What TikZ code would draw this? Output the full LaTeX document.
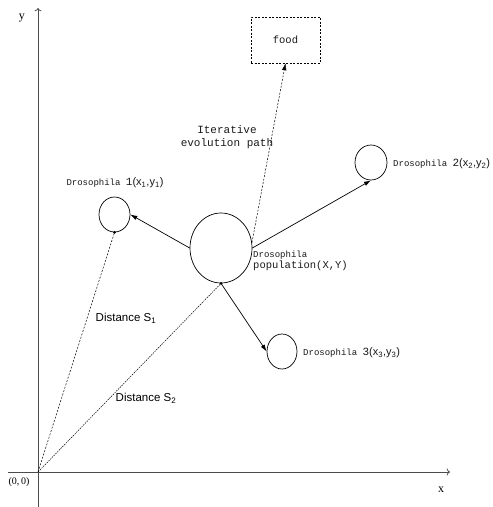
\documentclass[tikz,border=0pt]{standalone}
\usepackage{fontspec}
\setmainfont{Liberation Serif}
\setsansfont{Liberation Sans}
\setmonofont{Liberation Mono}
\usetikzlibrary{arrows.meta,shapes.geometric,positioning}
\tikzset{
  fly/.style={draw,ellipse,line width=0.7pt,inner sep=0pt},
  move/.style={-{Latex[length=7pt,width=4.5pt]},line width=0.7pt},
  guess/.style={line width=0.5pt,dash pattern=on 2pt off 1.5pt},
  axis/.style={->,black!70,line width=0.8pt},
  flytext/.style={font=\ttfamily\fontsize{9}{10}\selectfont,text=black!90,inner sep=0pt},
  disttext/.style={font=\sffamily\fontsize{11.5}{12}\selectfont,inner sep=0pt},
}
\newcommand{\xy}[1]{{\sffamily\fontsize{11}{12}\selectfont(x\textsubscript{#1},y\textsubscript{#1})}}
\newcommand{\bignum}[1]{{\fontsize{11}{12}\selectfont #1}}
\begin{document}
\begin{tikzpicture}[x=1pt,y=-1pt]
  \useasboundingbox (0,0) rectangle (493,507);
  \coordinate (O) at (38,472);
  \coordinate (xa) at (8,472);
  \coordinate (xb) at (450,472);
  \coordinate (ya) at (38,507);
  \coordinate (yb) at (38,8);
  \draw[axis] (xa) -- (xb);
  \draw[axis] (ya) -- (yb);
  \node (xlab) at (441,490) {\fontsize{12}{14}\selectfont x};
  \node (ylab) at (22,18) {\fontsize{12}{14}\selectfont y};
  \node (olab) at (19,482) {\fontsize{10}{12}\selectfont (0,\,0)};

  \node[fly, minimum width=62pt, minimum height=70pt] (pop) at (221,248) {};
  \node[fly, minimum width=31pt, minimum height=35pt] (d1) at (114.5,214.5) {};
  \node[fly, minimum width=32pt, minimum height=35pt] (d2) at (371,162.5) {};
  \node[fly, minimum width=30pt, minimum height=35pt] (d3) at (282,351.5) {};
  \node[draw, guess, minimum width=69pt, minimum height=46pt,
        font=\ttfamily\fontsize{10.5}{12}\selectfont, text=black!90] (food) at (285.5,40) {food};

  \draw[move] (pop.west) -- (d1.east);
  \draw[move] (pop.east) -- (d2.south);
  \draw[move] (pop.south) -- (d3.west);
  \draw[guess, -{Latex[length=7pt,width=4.5pt]}] (pop.10) -- (food.south);
  \draw[guess] (O) -- (d1.south);
  \draw[guess, dash pattern=on 1.5pt off 1pt] (O) -- (pop.south);
  \fill (d1.south) circle (1.5pt);
  \fill (pop.south) circle (1.5pt);

  \node[flytext] (l1) at (115,183) {Drosophila \bignum{1}\xy{1}};
  \node[flytext, anchor=west] (l2) at (393,164) {Drosophila \bignum{2}\xy{2}};
  \node[flytext, anchor=west] (l3) at (303,353) {Drosophila \bignum{3}\xy{3}};
  \node[flytext, anchor=north west, align=left] (lpop) at (253,251)
    {Drosophila\\[1pt]{\fontsize{10.5}{12}\selectfont population(X,Y)}};
  \node[flytext, align=center, font=\ttfamily\fontsize{11}{13}\selectfont] (lpath) at (227,137)
    {Iterative\\evolution path};
  \node[disttext] (s1) at (126,318) {Distance S\textsubscript{1}};
  \node[disttext] (s2) at (146,398) {Distance S\textsubscript{2}};
\end{tikzpicture}
\end{document}
